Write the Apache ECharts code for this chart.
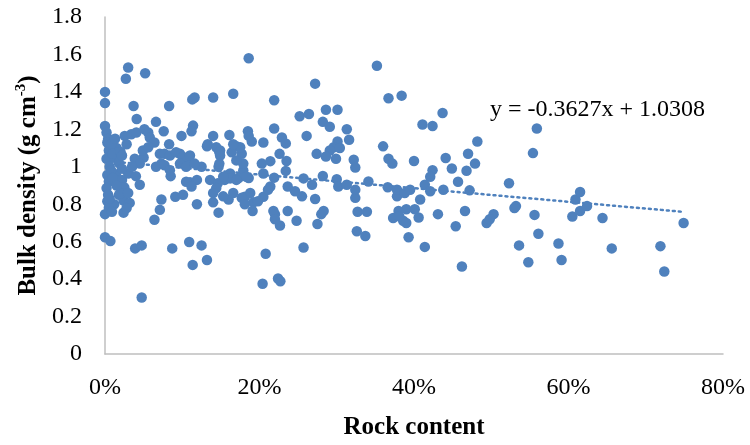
<!DOCTYPE html>
<html>
<head>
<meta charset="utf-8">
<script src="https://cdn.jsdelivr.net/npm/echarts@6/dist/echarts.min.js"></script>
<style>
  html, body { margin: 0; padding: 0; background: #fff; }
  #chart { width: 750px; height: 445px; }
</style>
</head>
<body>
<div id="chart"></div>
<script>
// Rock content (fraction of soil volume) for each sample
const rockContent = [
  0.186, 0.030, 0.027, 0.052, 0.000, 0.000, 0.037, 0.083, 0.113, 0.116,
  0.140, 0.166, 0.041, 0.066, 0.076, 0.114, 0.112, 0.083, 0.099, 0.185,
  0.132, 0.140, 0.161, 0.149, 0.170, 0.177, 0.190, 0.205, 0.203, 0.214,
  0.050, 0.085, 0.110, 0.119, 0.097, 0.108, 0.125, 0.147, 0.155, 0.162,
  0.179, 0.186, 0.205, 0.091, 0.101, 0.119, 0.073, 0.071, 0.140, 0.147,
  0.160, 0.181, 0.192, 0.205, 0.024, 0.000, 0.064, 0.191, 0.000, 0.007,
  0.039, 0.0475, 0.087, 0.109, 0.125, 0.1135, 0.132, 0.0475, 0.208, 0.204,
  0.224, 0.227, 0.257, 0.2265, 0.220, 0.218, 0.2365, 0.248, 0.275, 0.280,
  0.283, 0.272, 0.255, 0.326, 0.337, 0.327, 0.339, 0.324, 0.373, 0.386,
  0.393, 0.390, 0.401, 0.406, 0.414, 0.431, 0.408, 0.378, 0.466, 0.454,
  0.462, 0.494, 0.503, 0.498, 0.532, 0.530, 0.536, 0.548, 0.556, 0.561,
  0.587, 0.591, 0.605, 0.615, 0.624, 0.609, 0.644, 0.656, 0.719, 0.724,
  0.749, 0.437, 0.424, 0.559, 0.554, 0.482, 0.441, 0.470, 0.479, 0.468,
  0.449, 0.424, 0.421, 0.457, 0.438, 0.472, 0.523, 0.615, 0.352, 0.272,
  0.219, 0.367, 0.384, 0.411, 0.252, 0.264, 0.286, 0.301, 0.282, 0.291,
  0.313, 0.316, 0.219, 0.261, 0.229, 0.234, 0.301, 0.296, 0.304, 0.291,
  0.360, 0.226, 0.235, 0.274, 0.286, 0.299, 0.322, 0.324, 0.367, 0.372,
  0.400, 0.234, 0.257, 0.268, 0.282, 0.300, 0.302, 0.313, 0.324, 0.341,
  0.366, 0.378, 0.388, 0.395, 0.414, 0.421, 0.219, 0.214, 0.188, 0.2365,
  0.246, 0.380, 0.175, 0.164, 0.173, 0.162, 0.177, 0.181, 0.198, 0.211,
  0.220, 0.381, 0.390, 0.000, 0.002, 0.004, 0.0255, 0.034, 0.0405, 0.051,
  0.056, 0.058, 0.064, 0.003, 0.005, 0.002, 0.006, 0.003, 0.005, 0.002,
  0.004, 0.003, 0.005, 0.015, 0.012, 0.018, 0.014, 0.022, 0.025, 0.018,
  0.024, 0.012, 0.020, 0.045, 0.030, 0.0385, 0.045, 0.049, 0.056, 0.071,
  0.077, 0.084, 0.073, 0.066, 0.077, 0.084, 0.092, 0.101, 0.110, 0.097,
  0.105, 0.116, 0.133, 0.144, 0.148, 0.148, 0.136, 0.146, 0.144, 0.105,
  0.112, 0.032, 0.030, 0.149, 0.153, 0.153, 0.140, 0.166, 0.186, 0.179,
  0.183, 0.166, 0.170, 0.170, 0.008, 0.010, 0.013, 0.020, 0.022, 0.028,
  0.008, 0.010, 0.015, 0.006, 0.022, 0.035, 0.040, 0.028, 0.009
];

// Bulk density (g cm-3) for the same samples
const bulkDensity = [
  1.58, 1.53, 1.47, 1.50, 1.40, 1.34, 1.325, 1.325, 1.36, 1.37,
  1.37, 1.39, 1.255, 1.24, 1.19, 1.22, 1.19, 1.12, 1.165, 1.19,
  1.11, 1.165, 1.17, 1.087, 1.11, 1.07, 1.135, 1.13, 1.017, 1.03,
  1.05, 0.95, 0.917, 0.93, 1.07, 1.035, 1.0, 1.0, 0.93, 0.964,
  0.98, 0.94, 0.964, 0.84, 0.85, 0.80, 0.825, 0.77, 0.81, 0.755,
  0.825, 0.84, 0.81, 0.84, 0.755, 0.747, 0.717, 0.764, 0.624, 0.603,
  0.564, 0.58, 0.564, 0.598, 0.58, 0.476, 0.502, 0.302, 0.535, 0.375,
  0.403, 0.389, 0.569, 0.686, 0.747, 0.764, 0.764, 0.712, 0.694, 0.747,
  0.764, 0.828, 0.842, 0.656, 0.63, 0.76, 0.76, 0.834, 0.726, 0.712,
  0.624, 0.773, 0.773, 0.729, 0.572, 0.747, 0.825, 0.842, 0.764, 0.682,
  0.467, 0.70, 0.747, 0.72, 0.79, 0.78, 0.58, 0.49, 0.743, 0.642,
  0.59, 0.502, 0.734, 0.764, 0.79, 0.825, 0.726, 0.564, 0.576, 0.441,
  0.70, 1.287, 1.218, 1.204, 1.073, 1.135, 1.047, 1.07, 1.017, 0.979,
  0.991, 0.982, 0.947, 0.92, 0.877, 0.874, 0.912, 0.865, 1.54, 1.444,
  1.355, 1.366, 1.38, 1.226, 1.27, 1.282, 1.305, 1.305, 1.24, 1.214,
  1.20, 1.144, 1.204, 1.165, 1.156, 1.125, 1.135, 1.104, 1.10, 1.087,
  1.109, 1.069, 1.031, 1.069, 1.055, 1.043, 1.038, 0.996, 1.043, 1.017,
  1.031, 0.978, 0.938, 0.904, 0.951, 0.933, 0.895, 0.904, 0.877, 0.921,
  0.891, 0.877, 0.86, 0.877, 0.904, 0.869, 0.942, 0.895, 0.86, 0.895,
  0.869, 0.764, 1.104, 1.077, 0.94, 0.938, 0.834, 0.80, 0.816, 0.877,
  0.72, 0.735, 0.70, 1.218, 1.183, 1.148, 1.165, 1.174, 1.183, 1.20,
  1.183, 1.156, 1.13, 1.13, 1.087, 1.043, 1.0, 0.956, 0.921, 0.886,
  0.851, 0.816, 0.781, 1.10, 1.05, 1.02, 0.96, 0.93, 0.89, 0.85,
  0.82, 0.80, 0.86, 0.904, 0.964, 1.043, 1.017, 1.087, 1.104, 1.069,
  1.069, 1.06, 1.017, 1.0, 1.008, 0.982, 1.078, 1.052, 1.06, 1.017,
  1.0, 1.017, 1.12, 1.104, 1.078, 1.017, 0.93, 0.912, 0.886, 0.92,
  0.895, 0.807, 0.86, 1.06, 0.947, 0.842, 0.86, 1.12, 1.165, 1.017,
  0.947, 0.86, 1.034, 0.93, 1.12, 1.07, 1.15, 1.08, 1.06, 1.12,
  0.98, 0.94, 0.90, 0.83, 0.99, 1.00, 0.95, 0.78, 0.76
];

// Linear trend fitted to the samples
const trendSlope = -0.3627;
const trendIntercept = 1.0308;
const trendLabel = 'y = -0.3627x + 1.0308';

// Axis tick values
const xTicks = [0, 0.2, 0.4, 0.6, 0.8];
const yTicks = [0, 0.2, 0.4, 0.6, 0.8, 1.0, 1.2, 1.4, 1.6, 1.8];

const SERIF = "'Times New Roman', 'Liberation Serif', serif";
const BLUE = '#4F81BD';

const points = rockContent.map((x, i) => [x, bulkDensity[i]]);
const xEnd = Math.max.apply(null, rockContent);
const trend = [0, xEnd].map(x => [x, trendIntercept + trendSlope * x]);

const chart = echarts.init(document.getElementById('chart'), null, { renderer: 'canvas' });

chart.setOption({
  animation: false,
  backgroundColor: '#ffffff',
  grid: { left: 105, right: 27, top: 17, bottom: 84, containLabel: false },
  title: {
    text: trendLabel,
    left: 485,
    top: 93,
    textStyle: { fontFamily: SERIF, fontSize: 24, fontWeight: 'normal', color: '#000' }
  },
  xAxis: {
    type: 'value',
    min: xTicks[0],
    max: xTicks[xTicks.length - 1],
    interval: xTicks[1] - xTicks[0],
    name: 'Rock content',
    nameLocation: 'middle',
    nameGap: 61,
    nameTextStyle: { fontFamily: SERIF, fontSize: 25, fontWeight: 'bold', color: '#000' },
    axisLine: { show: true, lineStyle: { color: '#BFBFBF', width: 1.5 } },
    axisTick: { show: false },
    splitLine: { show: false },
    axisLabel: {
      margin: 22,
      fontFamily: SERIF, fontSize: 24, color: '#000',
      formatter: v => Math.round(v * 100) + '%'
    }
  },
  yAxis: {
    type: 'value',
    min: yTicks[0],
    max: yTicks[yTicks.length - 1],
    interval: 0.2,
    name: '{t|Bulk density (g cm}{s|-3}{t|)}',
    nameLocation: 'middle',
    nameRotate: 90,
    nameGap: 57,
    nameTextStyle: {
      rich: {
        t: { fontFamily: SERIF, fontSize: 25, fontWeight: 'bold', color: '#000', lineHeight: 30 },
        s: { fontFamily: SERIF, fontSize: 15, fontWeight: 'bold', color: '#000', verticalAlign: 'top', lineHeight: 30, padding: [0, 0, 10, 0] }
      }
    },
    axisLine: { show: true, lineStyle: { color: '#BFBFBF', width: 1.5 } },
    axisTick: { show: false },
    splitLine: { show: false },
    axisLabel: {
      margin: 23,
      fontFamily: SERIF, fontSize: 24, color: '#000',
      formatter: v => String(Math.round(v * 10) / 10)
    }
  },
  series: [
    {
      name: 'Trend',
      type: 'line',
      data: trend,
      showSymbol: false,
      symbol: 'none',
      z: 1,
      lineStyle: { color: BLUE, width: 2.5, type: [2, 4], cap: 'round' }
    },
    {
      name: 'Samples',
      type: 'scatter',
      data: points,
      symbol: 'circle',
      symbolSize: 10.5,
      z: 2,
      itemStyle: { color: BLUE, opacity: 1 }
    }
  ]
});
</script>
</body>
</html>
